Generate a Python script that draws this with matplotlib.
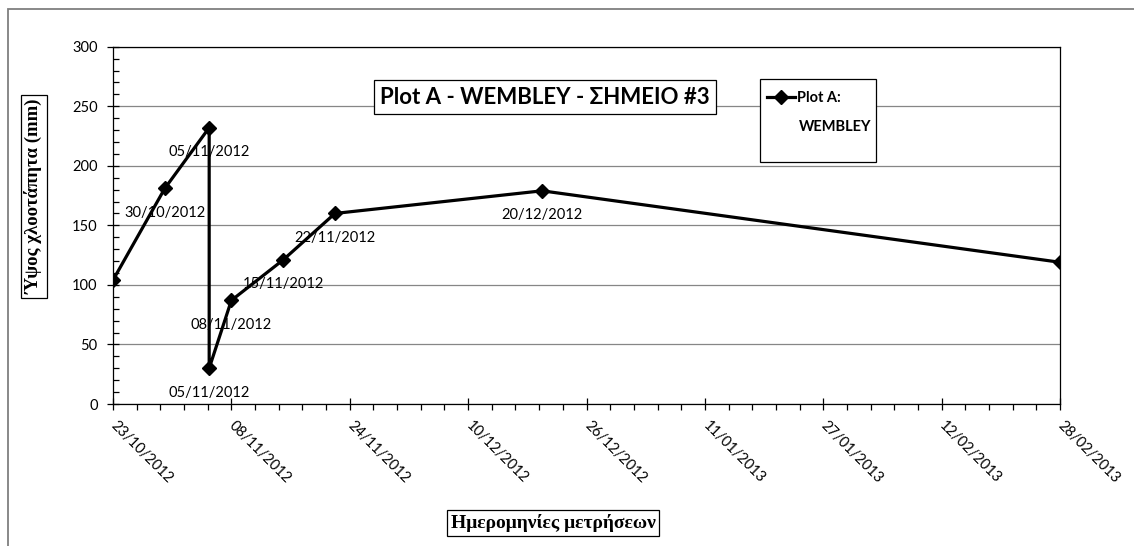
import datetime as dt
import numpy as np
import matplotlib
matplotlib.use('Agg')
import matplotlib.pyplot as plt
import matplotlib.dates as mdates
from matplotlib.patches import Rectangle

# measurement dates and turf height (mm)
dates = ['23/10/2012', '30/10/2012', '05/11/2012', '05/11/2012', '08/11/2012',
         '15/11/2012', '22/11/2012', '20/12/2012', '28/02/2013']
heights = [104, 181, 232, 30, 87, 121, 160, 179, 119]

x_ticks = ['23/10/2012', '08/11/2012', '24/11/2012', '10/12/2012', '26/12/2012',
           '11/01/2013', '27/01/2013', '12/02/2013', '28/02/2013']
y_ticks = [0, 50, 100, 150, 200, 250, 300]

title = 'Plot A - WEMBLEY - ΣΗΜΕΙΟ #3'
series_lines = ['Plot A:', 'WEMBLEY']
y_label = 'Ύψος χλοοτάπητα (mm)'
x_label = 'Ημερομηνίες μετρήσεων'

W, H = 1134, 546
sans = ['Lato', 'Open Sans', 'DejaVu Sans']
serif = ['Liberation Serif', 'DejaVu Serif']


def px(x, y):
    return x / W, 1 - y / H


def parse(d):
    return dt.datetime.strptime(d, '%d/%m/%Y')


fig = plt.figure(figsize=(W / 100, H / 100), dpi=100)
ax = fig.add_axes([113 / W, 1 - 404 / H, (1060 - 113) / W, (404 - 46.7) / H])

x = [parse(d) for d in dates]
ax.plot(x, heights, color='black', lw=2.3, marker='D', ms=7.5,
        label=series_lines[0], zorder=3)

# date labels under the inner points
for i in range(1, len(dates) - 1):
    ax.annotate(dates[i], (x[i], heights[i]), xytext=(0, -17.5),
                textcoords='offset points', ha='center', va='center',
                fontsize=10.5, family=sans, zorder=4)

tick_dates = [parse(d) for d in x_ticks]
ax.set_xlim(tick_dates[0], tick_dates[-1])
ax.set_ylim(y_ticks[0], y_ticks[-1])
ax.set_xticks(tick_dates)
ax.set_xticklabels(x_ticks, rotation=-45, ha='left', va='center',
                   rotation_mode='anchor', fontsize=10.5, family=sans)
lo, hi = mdates.date2num(tick_dates[0]), mdates.date2num(tick_dates[-1])
ax.set_xticks(np.linspace(lo, hi, 41), minor=True)
ax.set_yticks(y_ticks)
ax.set_yticklabels([str(v) for v in y_ticks], fontsize=10.5, family=sans)
ax.set_yticks(range(0, 301, 10), minor=True)

ax.yaxis.grid(True, which='major', color='#868686', lw=0.9)
ax.set_axisbelow(True)
for s in ax.spines.values():
    s.set_color('black')
    s.set_linewidth(0.9)

ax.tick_params(axis='y', which='major', direction='inout', length=8, width=0.9, pad=7)
ax.tick_params(axis='y', which='minor', direction='in', length=4, width=0.9)
ax.tick_params(axis='x', which='major', direction='inout', length=8, width=0.9, pad=10)
ax.tick_params(axis='x', which='minor', direction='out', length=4, width=0.9)

# outer chart frame
fig.patches.append(Rectangle((8 / W, -0.5), 2, 1.5 - 9 / H, transform=fig.transFigure,
                             fill=False, ec='#7f7f7f', lw=1.3))

# title box
fig.text(*px(545, 97), title, ha='center', va='center', fontsize=16,
         fontweight='bold', family=sans,
         bbox=dict(boxstyle='square,pad=0.3', fc='white', ec='black', lw=0.9))

# legend box
fig.patches.append(Rectangle(px(760, 162), 116 / W, 83 / H, transform=fig.transFigure,
                             fc='white', ec='black', lw=0.9, zorder=4))
fig.legend(handles=ax.get_lines(), loc='center left', bbox_to_anchor=px(767, 98),
           bbox_transform=fig.transFigure, frameon=False, handlelength=1.9,
           handletextpad=0.15, borderpad=0, borderaxespad=0,
           prop=dict(family=sans, weight='bold', size=10.5))
fig.text(*px(835, 127), series_lines[1], ha='center', va='center', fontsize=10.5,
         fontweight='bold', family=sans, zorder=6)

# axis titles
box = dict(boxstyle='square,pad=0.2', fc='white', ec='black', lw=0.9)
fig.text(*px(34, 196), y_label, rotation=90, ha='center', va='center',
         fontsize=13.5, fontweight='bold', family=serif, bbox=box)
fig.text(*px(553, 523), x_label, ha='center', va='center',
         fontsize=14, fontweight='bold', family=serif, bbox=box)

fig.savefig('out.png', dpi=100)
